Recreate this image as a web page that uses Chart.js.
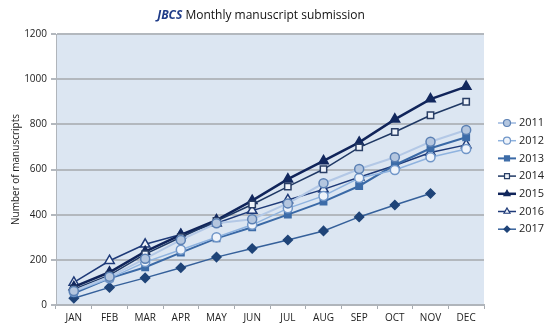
<!DOCTYPE html>
<html>
<head>
<meta charset="utf-8">
<script src="https://cdn.jsdelivr.net/npm/chart.js@4"></script>
<style>
  body { margin: 0; background: #fff; }
  #wrap { position: relative; width: 550px; height: 330px; }
  #title { position: absolute; top: 6px; left: 0; width: 522px; text-align: center;
           font: 12px "Open Sans"; color: #111; }
  #title b { color: #1f3c88; font-style: italic; }
</style>
</head>
<body>
<div id="wrap">
  <div id="title"><b>JBCS</b> Monthly manuscript submission</div>
  <canvas id="chart" width="550" height="330"></canvas>
</div>
<script>
const months = ['JAN', 'FEB', 'MAR', 'APR', 'MAY', 'JUN', 'JUL', 'AUG', 'SEP', 'OCT', 'NOV', 'DEC'];
const y2011 = [62, 125, 205, 288, 362, 380, 450, 539, 602, 654, 723, 775];
const y2012 = [58, 118, 190, 245, 300, 355, 428, 483, 562, 598, 654, 691];
const y2013 = [52, 118, 167, 232, 295, 344, 400, 458, 527, 620, 694, 743];
const y2014 = [70, 132, 225, 300, 372, 445, 524, 601, 698, 766, 840, 900];
const y2015 = [80, 145, 236, 310, 376, 462, 557, 638, 720, 822, 912, 967];
const y2016 = [100, 196, 269, 312, 362, 418, 465, 512, 566, 618, 675, 709];
const y2017 = [30, 78, 120, 165, 212, 250, 288, 328, 390, 443, 494, null];

const HOLLOW = '#eef3fa';

function series(label, data, line, fill, border, style, radius, width) {
  return {
    label: label,
    data: data,
    borderColor: line,
    borderWidth: width,
    pointStyle: style,
    pointRadius: radius,
    pointBackgroundColor: fill,
    pointBorderColor: border,
    pointBorderWidth: 1.5,
    tension: 0,
    fill: false
  };
}

// plot area background
const plotBg = {
  id: 'plotBg',
  beforeDraw(chart) {
    const { ctx, chartArea: a } = chart;
    ctx.save();
    ctx.fillStyle = '#dce6f2';
    ctx.fillRect(a.left, a.top, a.width, a.height);
    ctx.restore();
  }
};

// legend with line + marker, like the original
const sideLegend = {
  id: 'sideLegend',
  afterDraw(chart) {
    const ctx = chart.ctx;
    let y = 123;
    chart.data.datasets.forEach(ds => {
      ctx.save();
      ctx.strokeStyle = ds.borderColor;
      ctx.lineWidth = ds.borderWidth;
      ctx.beginPath();
      ctx.moveTo(498, y);
      ctx.lineTo(516, y);
      ctx.stroke();
      ctx.fillStyle = ds.pointBackgroundColor;
      ctx.strokeStyle = ds.pointBorderColor;
      ctx.lineWidth = 1.2;
      Chart.helpers.drawPoint(ctx, { pointStyle: ds.pointStyle, radius: ds.pointStyle === 'rectRot' ? 3 : 3.5, borderWidth: 1.2 }, 507, y);
      ctx.fillStyle = '#222';
      ctx.font = '11px "Open Sans"';
      ctx.textBaseline = 'middle';
      ctx.fillText(ds.label, 519, y);
      ctx.restore();
      y += 17.7;
    });
  }
};

new Chart(document.getElementById('chart'), {
  type: 'line',
  data: {
    labels: months,
    datasets: [
      series('2011', y2011, '#b3c8e6', '#b4c6df', '#5b80b4', 'circle', 4.5, 2),
      series('2012', y2012, '#8fb3df', HOLLOW, '#7096c8', 'circle', 4.5, 1.5),
      series('2013', y2013, '#3a69a6', '#3d6ca8', '#3d6ca8', 'rect', 4.5, 2),
      series('2014', y2014, '#1f3864', HOLLOW, '#2a3f66', 'rect', 4.5, 1.5),
      series('2015', y2015, '#10245a', '#12285e', '#12285e', 'triangle', 5.5, 2.5),
      series('2016', y2016, '#1e3a78', HOLLOW, '#1e3a78', 'triangle', 5.5, 1.5),
      series('2017', y2017, '#35609a', '#1f4478', '#1f4478', 'rectRot', 4.5, 1.5)
    ]
  },
  options: {
    responsive: false,
    animation: false,
    layout: { padding: { top: 34, right: 66, left: 0, bottom: 0 } },
    plugins: {
      legend: { display: false },
      tooltip: { enabled: false }
    },
    scales: {
      x: {
        offset: true,
        afterFit(s) { s.height = 25; },
        grid: { offset: true, drawOnChartArea: false, color: '#a6abb1', tickLength: 4, lineWidth: 1 },
        border: { color: '#b0b5bb', width: 2 },
        ticks: { color: '#222', font: { family: 'Open Sans', size: 10 }, padding: 3 }
      },
      y: {
        min: 0,
        max: 1200,
        afterFit(s) { s.width = 56; },
        ticks: { stepSize: 200, color: '#222', font: { family: 'Open Sans', size: 10 }, padding: 4,
                 callback: v => String(v) },
        grid: { color: '#b3b8be', lineWidth: 2, tickLength: 5 },
        border: { color: '#b0b5bb', width: 1 },
        title: { display: true, text: 'Number of manuscripts', color: '#222',
                 font: { family: 'Open Sans', size: 10 }, padding: { top: 10, bottom: 0 } }
      }
    }
  },
  plugins: [plotBg, sideLegend]
});
</script>
</body>
</html>
